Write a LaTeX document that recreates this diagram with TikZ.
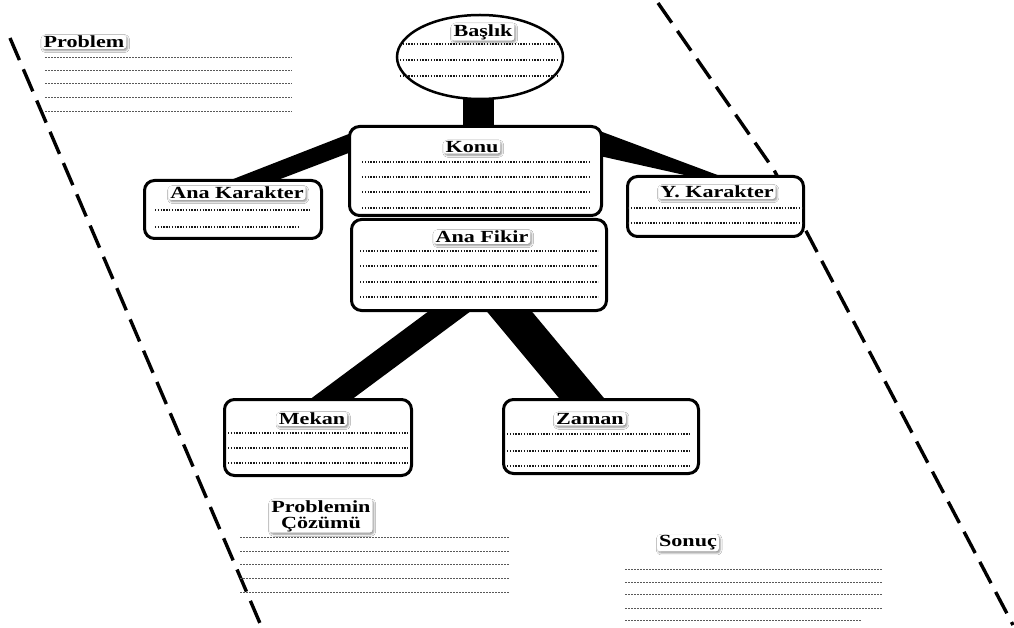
\documentclass[tikz,border=0pt]{standalone}
\usepackage{fontspec}
\newfontfamily\labelserif{Liberation Serif}
\usetikzlibrary{shapes.geometric,calc,shadows.blur}

% bold serif captions, widened a little
\newcommand\captxt[1]{{\labelserif\bfseries\scalebox{1.3}[1]{#1}}}

\tikzset{
  frame/.style={draw, line width=3pt, rounded corners=10pt, fill=white, inner sep=0pt},
  limb/.style={fill=black},
  border/.style={line width=3.4pt, dash pattern=on 24pt off 10pt},
  rule/.style={line width=1.1pt, dash pattern=on 1.3pt off 1.5pt, black!90},
  freerule/.style={line width=0.9pt, dash pattern=on 1.5pt off 1.5pt, black!65},
  caption/.style={fill=white, rounded corners=3pt, inner xsep=2pt, inner ysep=1pt,
    font=\fontsize{17}{16}\selectfont,
    blur shadow={shadow xshift=1.2pt, shadow yshift=-1.6pt, shadow blur radius=2pt, shadow opacity=45}},
}

\begin{document}
\begin{tikzpicture}[x=1pt, y=-1pt]
\useasboundingbox (0,0) rectangle (1014,628);
\fill[white] (0,0) rectangle (1014,628);

% dashed margins
\coordinate (la) at (10,38);
\coordinate (lb) at (262,628);
\coordinate (ra) at (658,3);
\coordinate (rk) at (774,170);
\coordinate (rb) at (1013,625);
\draw[border] (la) -- (lb);
\draw[border] (ra) -- (rk) -- (rb);

% node positions
\coordinate (pBaslik) at (480,57);
\coordinate (pKonu) at (475.5,171);
\coordinate (pFikir) at (479,265);
\coordinate (pAnaKar) at (233,209.5);
\coordinate (pYKar) at (715.5,206.5);
\coordinate (pMekan) at (318,437.5);
\coordinate (pZaman) at (601,436.5);

% boxes are placed first (invisible) so the limbs can refer to them
\path node[minimum width=166, minimum height=84, ellipse, inner sep=0pt] (baslik) at (pBaslik) {}
      node[minimum width=252, minimum height=89, inner sep=0pt] (konu) at (pKonu) {}
      node[minimum width=255, minimum height=91, inner sep=0pt] (fikir) at (pFikir) {}
      node[minimum width=177, minimum height=58, inner sep=0pt] (anakar) at (pAnaKar) {}
      node[minimum width=176, minimum height=60, inner sep=0pt] (ykar) at (pYKar) {}
      node[minimum width=187, minimum height=76, inner sep=0pt] (mekan) at (pMekan) {}
      node[minimum width=195, minimum height=74, inner sep=0pt] (zaman) at (pZaman) {};

% neck, arms and legs
\fill[limb] ($(baslik.south)+(-17,-3)$) rectangle ($(konu.north)+(18,3)$);
\fill[limb] ($(anakar.north)+(-3,0)$) -- ($(konu.west)+(2,-38)$) -- ($(konu.west)+(2,-19)$) -- ($(anakar.north)+(44,0)$) -- cycle;
\fill[limb] ($(konu.east)+(-2,-40)$) -- ($(ykar.north)+(9.5,1.5)$) -- ($(ykar.north)+(-18.5,1.5)$) -- ($(konu.east)+(-2,-15)$) -- cycle;
\fill[limb] ($(fikir.south)+(-51,1)$) -- ($(fikir.south)+(-9,1)$) -- ($(mekan.north)+(34,0)$) -- ($(mekan.north)+(-8,0)$) -- cycle;
\fill[limb] ($(fikir.south)+(8,1)$) -- ($(fikir.south)+(53,1)$) -- ($(zaman.north)+(4,0)$) -- ($(zaman.north)+(-41,0)$) -- cycle;

% visible outlines
\node[draw, line width=2.5pt, fill=white, ellipse, minimum width=166, minimum height=84, inner sep=0pt] at (pBaslik) {};
\node[frame, minimum width=252, minimum height=89] at (pKonu) {};
\node[frame, minimum width=255, minimum height=91] at (pFikir) {};
\node[frame, minimum width=177, minimum height=58] at (pAnaKar) {};
\node[frame, minimum width=176, minimum height=60] at (pYKar) {};
\node[frame, minimum width=187, minimum height=76] at (pMekan) {};
\node[frame, minimum width=195, minimum height=74] at (pZaman) {};

% writing lines
\foreach \y in {44,60,76} \draw[rule] (400,\y) -- (558,\y);
\foreach \y in {162,177,192,208} \draw[rule] (362,\y) -- (590,\y);
\foreach \y in {251,266,282,297} \draw[rule] (360,\y) -- (598,\y);
\draw[rule] (155,210) -- (310,210);
\draw[rule] (155,227) -- (298,227);
\foreach \y in {208,223} \draw[rule] (628,\y) -- (803,\y);
\foreach \y in {433,448,463} \draw[rule] (228,\y) -- (408,\y);
\foreach \y in {434,451,466} \draw[rule] (507,\y) -- (691,\y);
\foreach \y in {57,70,83,97,111} \draw[freerule] (45,\y) -- (292,\y);
\foreach \y in {537,551,564,578,592} \draw[freerule] (240,\y) -- (510,\y);
\foreach \y in {569,582,594,608} \draw[freerule] (625,\y) -- (882,\y);
\draw[freerule] (625,620) -- (862,620);

% captions
\node[caption] (tProblem) at (84,42) {\captxt{Problem}};
\node[caption] (tBaslik) at (483,32) {\captxt{Başlık}};
\node[caption] (tKonu) at (472,147) {\captxt{Konu}};
\node[caption] (tFikir) at (482,237) {\captxt{Ana Fikir}};
\node[caption] (tAnaKar) at (237,193) {\captxt{Ana Karakter}};
\node[caption] (tYKar) at (717,192) {\captxt{Y. Karakter}};
\node[caption] (tMekan) at (312,419) {\captxt{Mekan}};
\node[caption] (tZaman) at (590,419) {\captxt{Zaman}};
\node[caption, align=center] (tCozum) at (321,516) {\captxt{Problemin}\\\captxt{Çözümü}};
\node[caption] (tSonuc) at (688,543) {\captxt{Sonuç}};
\end{tikzpicture}
\end{document}
